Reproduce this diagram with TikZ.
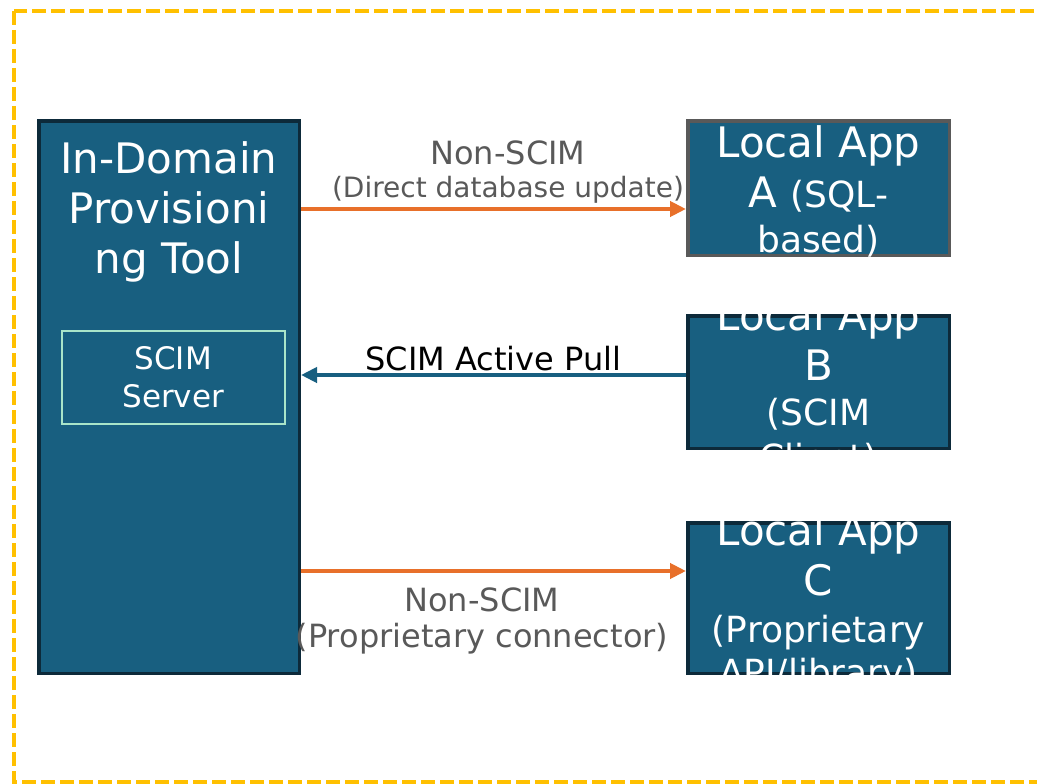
\documentclass[tikz,border=0pt]{standalone}
\usepackage{fontspec}
\setmainfont{DejaVu Sans}
\usetikzlibrary{arrows.meta,positioning}
\definecolor{appblue}{HTML}{185F80}
\definecolor{appedge}{HTML}{0D2A3A}
\definecolor{appgray}{HTML}{595959}
\definecolor{linkorange}{HTML}{E8702A}
\definecolor{srvgreen}{HTML}{A9E5C9}
\definecolor{zoneyellow}{HTML}{FFC000}
\newcommand{\bigsize}{\fontsize{42}{50}\selectfont}
\newcommand{\midsize}{\fontsize{36}{50}\selectfont}
\tikzset{
  zone/.style={draw=zoneyellow,line width=4.5pt,dash pattern=on 14pt off 5pt},
  appbox/.style={draw=appedge,fill=appblue,line width=3.5pt,anchor=north west,inner sep=0pt,minimum width=261.5pt},
  sqlbox/.style={appbox,draw=appgray},
  srvbox/.style={draw=srvgreen,line width=1.5pt,anchor=north west,inner sep=0pt,text=white,align=center,font=\fontsize{31}{38}\selectfont},
  apptext/.style={text=white,align=center,anchor=north,inner sep=0pt,font=\bigsize},
  linklabel/.style={align=center,inner sep=0pt,text=appgray},
  push/.style={-{Triangle[length=16pt,width=15pt]},line width=4pt,linkorange},
  pull/.style={push,appblue}
}

\begin{document}
\begin{tikzpicture}[x=1pt,y=-1pt]
  \useasboundingbox (0,0) rectangle (1037,784);
  \draw[zone] (14,11) rectangle (1045,782);

  % provisioning tool with its SCIM server
  \node[appbox,minimum width=260.5pt,minimum height=552.5pt] (tool) at (37,119) {};
  \node[apptext] (tooltext) at (169,141) {In-Domain\\Provisioni\\ng Tool};
  \node[srvbox,minimum width=223pt,minimum height=93pt] (scimsrv) at (61,330) {SCIM\\Server};

  % local apps
  \node[sqlbox,minimum height=134.5pt] (appa) at (686,119) {};
  \node[appbox,minimum height=132.5pt] (appb) at (686,314) {};
  \node[appbox,minimum height=150.5pt] (appc) at (686,521) {};

  % captions run over the box edges, so clip them to each box
  \begin{scope}
    \clip (appa.north west) rectangle (appa.south east);
    \node[apptext] (appatext) at (818.5,125) {Local App\\A {\midsize (SQL-}\\[-5pt]{\midsize based)}};
  \end{scope}
  \begin{scope}
    \clip (appb.north west) rectangle (appb.south east);
    \node[apptext] (appbtext) at (818.5,298) {Local App\\B\\[-5pt]{\midsize (SCIM}\\[-5pt]{\midsize Client)}};
  \end{scope}
  \begin{scope}
    \clip (appc.north west) rectangle (appc.south east);
    \node[apptext] (appctext) at (818.5,513) {Local App\\C\\[-3pt]{\midsize (Proprietary}\\[-7pt]{\midsize API/library)}};
  \end{scope}

  % connectors
  \coordinate (aport) at ([yshift=-21pt]appa.west);
  \coordinate (bport) at ([yshift=7pt]appb.west);
  \coordinate (cport) at ([yshift=27pt]appc.west);
  \draw[push] (tool.east |- aport) -- (aport);
  \draw[pull] (bport) -- (tool.east |- bport);
  \draw[push] (tool.east |- cport) -- (cport);

  \node[linklabel,anchor=north,font=\fontsize{32}{33}\selectfont] (dblabel) at (508,141) {Non-SCIM\\{\fontsize{28}{33}\selectfont (Direct database update)}};
  \node[linklabel,text=black,anchor=base,font=\fontsize{32}{38}\selectfont] (pulllabel) at (493.5,370) {SCIM Active Pull};
  \node[linklabel,anchor=north,font=\fontsize{32}{36}\selectfont] (connlabel) at (482,588) {Non-SCIM\\(Proprietary connector)};
\end{tikzpicture}
\end{document}
